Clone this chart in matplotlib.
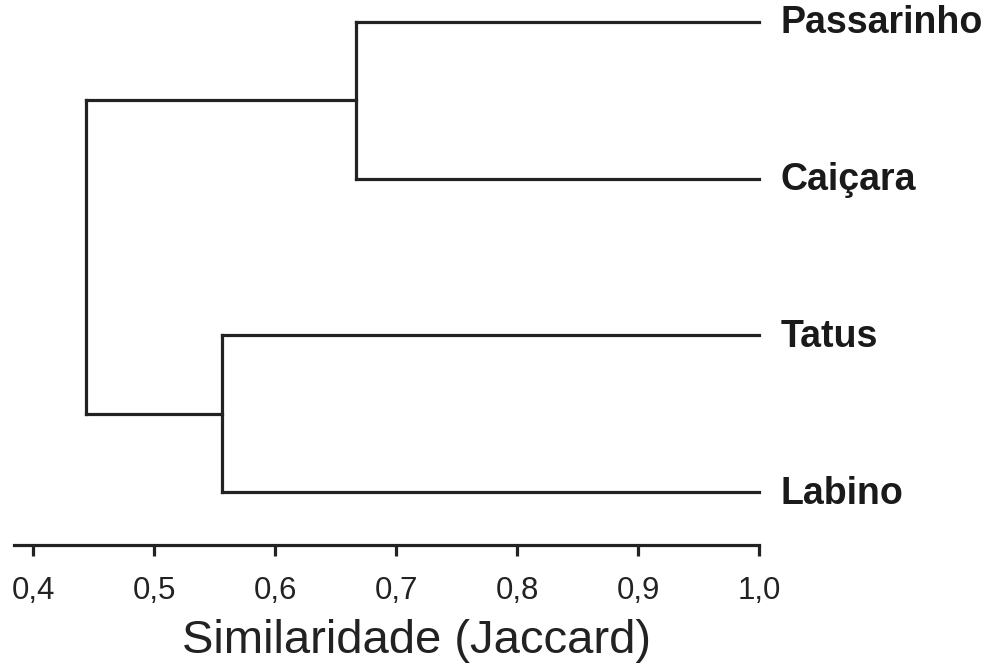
import matplotlib
matplotlib.use("Agg")
import matplotlib.pyplot as plt

plt.rcParams['font.family'] = ['Liberation Sans', 'DejaVu Sans']

# Data
leaves = ["Labino", "Tatus", "Caiçara", "Passarinho"]  # bottom to top
merge_pc = 0.667   # Passarinho + Caiçara
merge_tl = 0.556   # Tatus + Labino
merge_root = 0.444 # root
leaf_sim = 1.0
ticks = [0.4, 0.5, 0.6, 0.7, 0.8, 0.9, 1.0]
tick_labels = ["0,4", "0,5", "0,6", "0,7", "0,8", "0,9", "1,0"]
xlabel = "Similaridade (Jaccard)"

W, H = 984, 672
fig = plt.figure(figsize=(W / 100, H / 100), dpi=100)
left_px, right_px = 14, 759
top_px, bottom_px = 10, 545
ax = fig.add_axes([left_px / W, 1 - bottom_px / H, (right_px - left_px) / W, (bottom_px - top_px) / H])

ppu = (759 - 33) / 0.6
ax.set_xlim(0.4 - (33 - left_px) / ppu, 1.0)
unit = 156.7
ybot = -(545 - 492) / unit
ax.set_ylim(ybot, ybot + (bottom_px - top_px) / unit)

lc = "#222222"
lw = 2.3
ypos = {name: i for i, name in enumerate(leaves)}

def seg(x0, y0, x1, y1):
    ax.plot([x0, x1], [y0, y1], color=lc, lw=lw, solid_capstyle='projecting', clip_on=False)

# leaf lines
seg(merge_pc, ypos["Passarinho"], leaf_sim, ypos["Passarinho"])
seg(merge_pc, ypos["Caiçara"], leaf_sim, ypos["Caiçara"])
seg(merge_pc, ypos["Caiçara"], merge_pc, ypos["Passarinho"])
seg(merge_tl, ypos["Tatus"], leaf_sim, ypos["Tatus"])
seg(merge_tl, ypos["Labino"], leaf_sim, ypos["Labino"])
seg(merge_tl, ypos["Labino"], merge_tl, ypos["Tatus"])
y_pc = (ypos["Caiçara"] + ypos["Passarinho"]) / 2
y_tl = (ypos["Labino"] + ypos["Tatus"]) / 2
seg(merge_root, y_pc, merge_pc, y_pc)
seg(merge_root, y_tl, merge_tl, y_tl)
seg(merge_root, y_tl, merge_root, y_pc)

for name in leaves:
    ax.text(leaf_sim + 22 / ppu, ypos[name] - 0.01, name, ha='left', va='center',
            fontsize=27, fontweight='bold', color='#1a1a1a', clip_on=False)

for s in ['top', 'right', 'left']:
    ax.spines[s].set_visible(False)
ax.spines['bottom'].set_linewidth(lw)
ax.spines['bottom'].set_color(lc)
ax.set_yticks([])
ax.set_xticks(ticks)
ax.set_xticklabels(tick_labels, fontsize=22.5, color='#222222')
ax.tick_params(axis='x', direction='out', length=8, width=lw, color=lc, pad=14)

fig.text(417 / W, 1 - 641 / H, xlabel, ha='center', va='center', fontsize=34, color='#222222')

fig.savefig("out.png", dpi=100)
